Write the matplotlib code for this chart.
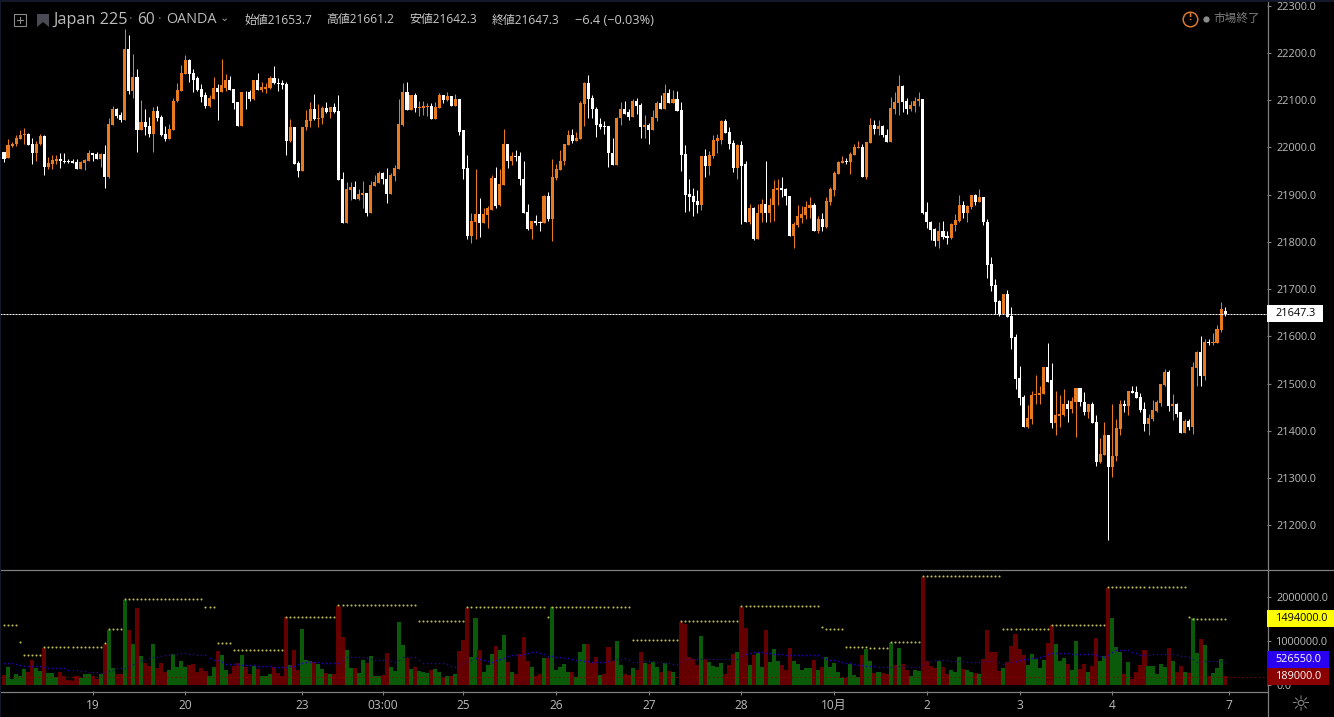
import matplotlib
matplotlib.use("Agg")
import matplotlib.pyplot as plt
from matplotlib.patches import Rectangle, Polygon
import numpy as np

plt.rcParams['font.family'] = ['Open Sans', 'Noto Sans CJK JP', 'DejaVu Sans']

W, H = 1334, 717

# hourly candles
opens = [21991,21977,22002,22006,22017,22026,22029,22006,21989,22006,
         22023,21959,21964,21972,21976,21972,21971,21970,21968,21955,
         21966,21970,21989,21985,21976,21985,21938,22048,22080,22069,
         22057,22209,22120,22148,22036,22053,22046,22029,22076,22065,
         22029,22017,22036,22097,22120,22156,22184,22158,22146,22124,
         22110,22088,22103,22126,22116,22126,22143,22124,22095,22046,
         22118,22116,22103,22143,22122,22124,22126,22146,22137,22135,
         22133,22014,22042,21966,21949,22042,22055,22082,22059,22061,
         22084,22074,22086,22076,21932,21840,21909,21917,21890,21900,
         21904,21860,21919,21925,21945,21934,21902,21940,21955,22048,
         22116,22078,22110,22084,22084,22086,22088,22059,22084,22110,
         22101,22108,22088,22103,22036,21957,21813,21843,21858,21839,
         21856,21868,21936,21877,21921,22008,21970,21981,21981,21934,
         21864,21828,21845,21842,21839,21896,21849,21936,21953,21970,
         22004,22027,22014,22017,22091,22135,22105,22082,22050,22046,
         22046,21989,21962,22061,22082,22074,22065,22099,22090,22042,
         22048,22036,22063,22093,22080,22114,22093,22103,22078,21985,
         21902,21896,21887,21879,21981,21961,21981,22014,22016,22055,
         22033,22010,21957,22004,21964,21843,21871,21807,21860,21881,
         21862,21877,21909,21913,21911,21898,21813,21835,21851,21856,
         21871,21879,21824,21849,21832,21885,21909,21944,21966,21972,
         21968,21983,21998,22000,21938,22010,22048,22038,22046,22027,
         22012,22082,22093,22129,22097,22082,22088,22097,22103,21864,
         21843,21828,21801,21824,21813,21809,21835,21845,21877,21860,
         21873,21900,21885,21894,21843,21754,21708,21674,21648,21689,
         21644,21598,21511,21471,21409,21426,21475,21477,21479,21536,
         21507,21416,21431,21433,21458,21447,21462,21490,21462,21441,
         21456,21418,21335,21350,21392,21323,21346,21405,21458,21452,
         21485,21483,21471,21447,21414,21426,21443,21460,21498,21524,
         21452,21458,21439,21395,21420,21409,21534,21568,21517,21589,
         21585,21587,21613,21653.7]
closes = [21976,22004,22008,22019,22027,22029,22004,21989,22008,22023,
          21959,21966,21974,21976,21970,21968,21969,21966,21955,21968,
          21974,21989,21983,21976,21985,21938,22050,22080,22067,22057,
          22209,22120,22148,22036,22053,22044,22029,22076,22063,22027,
          22017,22038,22099,22122,22158,22184,22156,22143,22122,22107,
          22088,22105,22126,22116,22131,22143,22122,22093,22046,22116,
          22116,22103,22143,22122,22128,22128,22146,22135,22134,22131,
          22014,22042,21964,21949,22044,22057,22082,22059,22063,22084,
          22074,22086,22074,21930,21840,21911,21917,21890,21902,21904,
          21860,21921,21927,21945,21932,21902,21942,21957,22050,22116,
          22078,22110,22084,22086,22088,22088,22059,22086,22110,22101,
          22108,22088,22103,22033,21955,21813,21845,21858,21839,21858,
          21871,21936,21875,21923,22008,21970,21981,21979,21932,21862,
          21828,21845,21839,21840,21896,21849,21938,21955,21972,22006,
          22027,22014,22019,22093,22135,22103,22080,22048,22044,22044,
          21987,21962,22063,22082,22071,22065,22099,22088,22042,22048,
          22036,22065,22093,22080,22114,22093,22103,22076,21983,21900,
          21894,21885,21879,21981,21961,21983,22016,22019,22055,22031,
          22008,21957,22004,21961,21843,21871,21807,21862,21881,21862,
          21879,21911,21913,21909,21896,21813,21837,21854,21858,21873,
          21879,21824,21849,21832,21887,21911,21946,21968,21972,21969,
          21985,22000,22000,21938,22012,22048,22038,22046,22025,22012,
          22084,22095,22129,22095,22082,22090,22099,22103,21862,21841,
          21826,21801,21824,21811,21809,21837,21847,21877,21860,21875,
          21900,21885,21894,21841,21752,21706,21672,21648,21689,21642,
          21596,21509,21469,21409,21428,21477,21479,21481,21536,21504,
          21416,21433,21435,21458,21447,21464,21490,21462,21441,21456,
          21416,21335,21352,21392,21323,21348,21407,21458,21452,21485,
          21481,21469,21445,21414,21428,21445,21462,21500,21524,21452,
          21458,21435,21395,21420,21409,21536,21568,21517,21589,21587,
          21589,21615,21657,21647.3]
highs = [21991,22018,22012,22026,22036,22041,22031,22020,22014,22029,
         22025,21980,21983,21983,21987,21987,21976,21976,21976,21970,
         21976,21995,21989,21991,21987,22004,22061,22088,22084,22074,
         22251,22237,22198,22165,22101,22080,22065,22086,22088,22069,
         22046,22050,22105,22135,22175,22196,22186,22165,22150,22133,
         22116,22110,22148,22133,22186,22156,22150,22124,22095,22116,
         22120,22122,22143,22158,22139,22135,22150,22173,22146,22143,
         22139,22059,22042,21972,22044,22078,22095,22112,22091,22088,
         22095,22086,22093,22110,21947,21926,21926,21928,21911,21928,
         21904,21928,21942,21949,21947,21957,21945,21962,22103,22137,
         22139,22110,22114,22099,22099,22093,22093,22095,22114,22110,
         22116,22108,22112,22103,22036,21983,21860,21955,21892,21871,
         21875,21942,21959,21955,22038,22008,21991,21995,21991,21972,
         21881,21845,21856,21845,21900,21906,21976,21964,21995,22006,
         22036,22038,22033,22097,22139,22154,22110,22086,22061,22055,
         22046,22019,22065,22095,22099,22080,22103,22105,22093,22069,
         22052,22078,22097,22110,22133,22124,22122,22120,22095,22004,
         21934,21913,21909,21981,21997,21993,22025,22029,22057,22059,
         22044,22016,22006,22014,21972,21881,21873,21881,21890,21970,
         21892,21930,21934,21938,21913,21898,21841,21877,21875,21887,
         21894,21883,21854,21862,21894,21917,21949,21972,21982,21978,
         21991,22006,22014,22006,22012,22063,22057,22057,22048,22038,
         22107,22118,22154,22131,22105,22097,22107,22116,22103,21885,
         21845,21830,21841,21845,21822,21839,21858,21900,21887,21879,
         21900,21902,21911,21894,21849,21769,21722,21676,21689,21699,
         21663,21606,21538,21477,21454,21485,21519,21496,21536,21585,
         21543,21485,21477,21488,21466,21471,21490,21490,21483,21458,
         21462,21433,21386,21418,21392,21458,21426,21466,21466,21485,
         21496,21496,21481,21462,21435,21466,21466,21500,21532,21528,
         21479,21460,21441,21426,21426,21545,21570,21600,21595,21595,
         21608,21625,21672,21661.2]
lows = [21969,21977,22000,22003,22017,22008,22004,21964,21970,22004,
        21942,21955,21955,21964,21957,21966,21966,21966,21955,21955,
        21953,21970,21972,21976,21959,21913,21936,22048,22061,22053,
        22057,22112,22105,21991,22036,22027,22021,21991,22055,22023,
        22014,22017,22036,22095,22120,22156,22139,22116,22120,22095,
        22084,22086,22103,22057,22116,22120,22122,22080,22046,22046,
        22080,22097,22101,22122,22118,22114,22124,22133,22120,22124,
        21983,22012,21964,21938,21949,22036,22044,22057,22042,22050,
        22072,22061,22072,21930,21839,21839,21888,21890,21888,21871,
        21854,21860,21919,21925,21923,21883,21902,21928,21955,22046,
        22078,22078,22074,22067,22069,22067,22059,22059,22084,22093,
        22099,22088,22088,22027,21934,21807,21797,21805,21811,21839,
        21830,21868,21871,21875,21921,21957,21962,21970,21921,21862,
        21826,21805,21835,21822,21839,21845,21801,21930,21953,21962,
        22004,22010,22014,22017,22046,22061,22061,22021,22038,22029,
        21959,21962,21962,22048,22071,22057,22065,22071,22019,22019,
        22006,22036,22055,22080,22080,22093,22093,22076,21949,21864,
        21866,21854,21862,21868,21938,21942,21978,21989,22008,22031,
        21997,21947,21932,21837,21843,21837,21803,21807,21843,21843,
        21841,21845,21879,21894,21879,21813,21788,21832,21839,21849,
        21851,21824,21818,21822,21830,21877,21898,21944,21966,21964,
        21944,21983,21998,21938,21932,22010,22029,22027,22021,22012,
        22012,22071,22069,22074,22071,22076,22074,22088,21858,21830,
        21803,21792,21786,21805,21796,21805,21822,21843,21851,21841,
        21870,21877,21885,21835,21724,21695,21648,21644,21648,21642,
        21574,21488,21454,21409,21407,21414,21458,21458,21479,21504,
        21407,21392,21409,21431,21418,21437,21388,21452,21433,21428,
        21416,21325,21333,21350,21170,21303,21337,21392,21441,21433,
        21481,21469,21441,21399,21392,21422,21439,21452,21494,21443,
        21424,21430,21395,21395,21401,21394,21496,21496,21507,21581,
        21581,21585,21610,21642.3]

# volume pane, in thousands
volume = [227,409,136,250,205,364,295,568,386,318,
          841,273,273,182,295,205,114,91,205,159,
          250,250,205,136,250,932,1250,386,250,250,
          1932,1250,932,1750,659,500,432,932,386,500,
          295,341,705,409,545,409,455,477,295,386,
          318,205,409,773,682,341,250,432,500,682,
          409,250,432,364,205,205,250,409,273,205,
          1545,455,795,341,1273,568,545,523,477,364,
          273,250,250,1795,1091,795,386,386,273,568,
          500,659,205,205,227,727,409,318,1432,909,
          614,364,409,318,295,273,341,364,295,159,
          205,205,250,773,1023,1750,636,1523,795,295,
          455,705,886,795,1136,523,295,250,705,1091,
          545,409,205,250,614,614,1773,341,409,477,
          295,295,182,750,932,932,500,636,227,250,
          864,545,1000,455,250,227,386,341,750,500,
          477,523,409,295,500,318,295,0,1432,1386,
          636,591,455,1114,591,523,432,409,500,250,
          455,705,750,1773,1295,455,682,727,409,1250,
          523,818,545,455,341,841,545,477,341,386,
          386,568,341,409,636,409,500,295,159,159,
          477,227,182,682,818,545,273,295,273,250,
          955,455,841,477,341,205,341,318,2455,545,
          432,386,545,409,250,341,295,636,364,341,
          295,273,250,591,1250,750,750,318,386,523,
          886,1159,818,682,455,705,591,386,568,955,
          1364,932,545,614,477,341,1000,364,477,295,
          432,1068,545,659,2205,1523,864,750,250,523,
          136,295,455,795,432,432,250,477,409,841,
          545,295,432,295,273,1523,727,1045,909,205,
          273,386,591,205]
vol_side = ("rggggg" "rrgg" "rgggrrrrrg" "ggrrgrggrr" "grgrgrrgrr" "rgggggrrrr"
            "rggrggrrrg" "rrgrgggrrr" "rgrrgggrgg" "rgrrrggrgg" "rgggrrgggg"
            "rgrgggrggr" "grgrrrggrg" "ggrggrgrrr" "rgrrgrgggg" "grgggrrrgr"
            "rrggrrgrrg" "rggrgrgrrr" "rrrgrggggr" "rrgrrgrggr" "gggrrrgggg"
            "grgrgggggr" "gggrggrgrr" "grgrrgggrr" "rrgrrgggrg" "grgrrrrrgr"
            "rrrrgggggr" "rgggrggrrg" "rrggrgggrg" "rrrrgggggr" "grrgrggrgr"
            "gggr")

# moving average, thousands
vol_avg = [508,508,508,485,455,424,424,424,424,424,
           409,386,386,379,379,379,348,348,348,318,
           318,303,303,303,280,280,318,348,379,379,
           394,432,485,515,576,576,606,629,629,667,
           682,682,712,712,727,727,697,697,682,682,
           682,621,561,561,515,477,477,477,477,462,
           462,462,462,424,424,424,424,409,409,409,
           409,439,439,485,508,515,515,515,515,492,
           492,492,492,492,570,644,644,644,644,644,
           620,600,576,576,576,576,545,515,570,629,
           629,629,629,560,492,492,492,492,492,492,
           470,440,417,455,492,550,575,606,590,570,
           550,530,560,585,606,650,682,682,690,697,
           730,758,745,735,700,667,650,640,629,620,
           606,590,575,560,553,553,530,515,515,530,
           545,568,580,595,606,570,530,530,540,553,
           553,540,530,530,510,492,480,470,530,591,
           591,591,591,591,591,591,591,591,591,591,
           591,591,591,650,712,725,740,758,745,730,
           720,710,700,695,689,689,689,689,689,689,
           689,689,689,640,591,575,560,545,525,500,
           490,477,465,450,440,432,425,420,420,417,
           417,417,425,432,425,420,417,417,480,545,
           555,565,575,576,565,555,550,545,535,525,
           520,515,525,535,545,555,568,525,485,510,
           530,553,565,580,590,606,620,640,660,700,
           720,735,730,725,720,715,710,705,700,698,
           697,680,660,644,690,740,795,795,795,795,
           760,720,682,685,690,697,697,697,697,697,
           697,680,665,650,644,590,530,540,548,553,
           553,553,540,526.55]

# yellow step line: level and how many bars it holds
peak_levels = [1356,970,674,856,947,1265,1947,1765,947,788,1552,1811,1447,1765,1538,
               1765,1015,1447,1788,1311,1265,856,833,970,2470,1265,1371,2220,1538,1494]
peak_runs = [4,1,5,15,1,4,20,3,4,13,13,20,12,20,1,20,12,15,20,1,5,6,5,8,20,12,14,20,1,9]

vol_floor = 189  # thousands
last_price = 21647.3
last_avg = 526550
last_peak = 1494000

price_ticks = [21200,21300,21400,21500,21600,21700,21800,21900,22000,22100,22200,22300]
vol_ticks = [0, 1000000, 2000000]
date_pos = [22,45,74,94,114,137,160,183,206,229,252,275,304]
date_labels = ['19','20','23','03:00','25','26','27','28','10月','2','3','4','7']

BG = '#000000'
UP = '#ea7a1f'
DOWN = '#ffffff'
RED = '#650000'
GREEN = '#0a5a0a'
GRID = '#7f7f7f'
LABEL = '#bcbcbc'


def fig_rect(px_left, px_top, px_right, px_bottom):
    return [px_left / W, 1 - px_bottom / H, (px_right - px_left) / W, (px_bottom - px_top) / H]


def put(x, y, s, **kw):
    kw.setdefault('va', 'center')
    kw.setdefault('color', LABEL)
    return fig.text(x / W, 1 - y / H, s, **kw)


def box(x0, y0, x1, y1, color):
    fig.add_artist(Rectangle((x0 / W, 1 - y1 / H), (x1 - x0) / W, (y1 - y0) / H,
                             transform=fig.transFigure, color=color, lw=0, zorder=5))


fig = plt.figure(figsize=(W / 100, H / 100), dpi=100, facecolor=BG)
ax = fig.add_axes(fig_rect(0, 0, 1267, 569), facecolor=BG)
ax2 = fig.add_axes(fig_rect(0, 570, 1267, 691), facecolor=BG)

o = np.array(opens)
c = np.array(closes)
hi = np.array(highs)
lo = np.array(lows)
x = np.arange(len(o))
colors = [UP if a >= b else DOWN for a, b in zip(c, o)]

# candles
ax.vlines(x, lo, hi, colors=colors, linewidth=0.72)
ax.bar(x, np.abs(c - o), bottom=np.minimum(c, o), width=0.76, color=colors, linewidth=0,
       antialiased=False)
ax.axhline(last_price, color='#ffffff', linewidth=0.72, linestyle=(0, (2, 1)))

# price scale
ax.set_xlim(-0.99, 313.4)
ax.set_ylim(22300 - 563.5 / 0.4727, 22300 + 5.5 / 0.4727)
ax.yaxis.tick_right()
ax.set_yticks(price_ticks)
ax.set_yticklabels(['%.1f' % p for p in price_ticks])
ax.set_xticks([])

# volume bars
vol = np.array(volume) * 1000
bar_colors = [RED if s == 'r' else GREEN for s in vol_side]
ax2.bar(x, vol, width=1.01, color=bar_colors, linewidth=0, antialiased=False)
ax2.plot(x, np.array(vol_avg) * 1000, ls='none', marker='o', ms=1.2, color='#2400a8', mew=0)
peak = np.repeat(peak_levels, peak_runs) * 1000
ax2.plot(x, peak, ls='none', marker='o', ms=1.5, color='#b9b84e', mew=0)
ax2.axhline(vol_floor * 1000, color='#8a0000', linewidth=0.6, linestyle=(0, (2, 3)))

ax2.set_xlim(ax.get_xlim())
ax2.set_ylim(-6 / 44 * 1e6, 115 / 44 * 1e6)
ax2.yaxis.tick_right()
ax2.set_yticks(vol_ticks)
ax2.set_yticklabels(['%.1f' % v for v in vol_ticks])
ax2.set_xticks(date_pos)
ax2.set_xticklabels(date_labels)

for a in (ax, ax2):
    for side in a.spines:
        a.spines[side].set_visible(False)
    a.tick_params(axis='both', colors=GRID, labelcolor=LABEL, labelsize=7.8, length=3, width=0.8, pad=3.5)
ax2.tick_params(axis='x', pad=3, labelsize=8.6)

# pane borders
for line_y, x_end in ((569.5, W), (691.5, 1267)):
    fig.add_artist(plt.Line2D([0, x_end / W], [1 - line_y / H] * 2, color=GRID, lw=0.9, zorder=4))
fig.add_artist(plt.Line2D([1267.5 / W] * 2, [0, 1], color=GRID, lw=0.9, zorder=4))
box(0, 0, 1.5, H, '#14182a')
box(0, 0, W, 1.5, '#14182a')

# value labels on the scales
box(1267, 305, 1323, 322, '#ffffff')
put(1275.5, 313.5, '%.1f' % last_price, color='#000000', fontsize=7.8, zorder=6)
box(1267, 610, 1334, 627, '#ffff00')
put(1275.5, 618.5, '%.1f' % last_peak, color='#000000', fontsize=7.8, zorder=6)
box(1267, 651, 1329, 668, '#2a00f0')
put(1275.5, 659.5, '%.1f' % last_avg, color='#ffffff', fontsize=7.8, zorder=6)
box(1267, 668, 1329, 685, '#8b0000')
put(1275.5, 676.5, '%.1f' % (vol_floor * 1000), color='#ffffff', fontsize=7.8, zorder=6)

# header
fig.add_artist(Rectangle((14 / W, 1 - 26 / H), 12 / W, 12 / H, transform=fig.transFigure,
                         fill=False, ec='#8a8a8a', lw=0.8))
fig.add_artist(plt.Line2D([20 / W] * 2, [1 - 23 / H, 1 - 17 / H], color='#8a8a8a', lw=0.8))
fig.add_artist(plt.Line2D([17 / W, 23 / W], [1 - 20 / H] * 2, color='#8a8a8a', lw=0.8))
flag = [(37, 14), (49, 14), (49, 27), (43, 22), (37, 27)]
fig.add_artist(Polygon([(a / W, 1 - b / H) for a, b in flag], transform=fig.transFigure,
                       color='#4a4a55', lw=0))
put(53, 19.5, 'Japan 225', fontsize=11.7)
put(129, 19.5, '·', fontsize=10, color='#666666')
put(137, 19.5, '60', fontsize=11.2)
put(158, 19.5, '·', fontsize=10, color='#666666')
put(166, 19.5, 'OANDA', fontsize=10.4)
put(219.5, 18, '⌄', fontsize=8, family='DejaVu Sans', color='#a0a0a0')
put(244, 20, '始値21653.7', fontsize=8.6, color='#c8c8c8')
put(326, 20, '高値21661.2', fontsize=8.6, color='#c8c8c8')
put(409, 20, '安値21642.3', fontsize=8.6, color='#c8c8c8')
put(492, 20, '終値21647.3', fontsize=8.6, color='#c8c8c8')
put(575, 20, '−6.4 (−0.03%)', fontsize=9.2, color='#c8c8c8')

# market closed note
fig.add_artist(plt.Line2D([1190 / W], [1 - 18.5 / H], marker='o', ms=10.5, mfc='none',
                          mec='#d9782c', mew=1.1, transform=fig.transFigure))
put(1190, 18, '!', fontsize=8, color='#d9782c', ha='center', fontweight='bold')
fig.add_artist(plt.Line2D([1206 / W], [1 - 18.5 / H], marker='o', ms=4.5, color='#8a8a8a',
                          mew=0, transform=fig.transFigure))
put(1213, 18.5, '市場終了', fontsize=8.4, color='#7c7c7c')

# settings icon
put(1300.5, 705, '☼', fontsize=16, family='DejaVu Sans', color='#8c8c8c', ha='center')

fig.savefig('out.png', dpi=100, facecolor=BG)
